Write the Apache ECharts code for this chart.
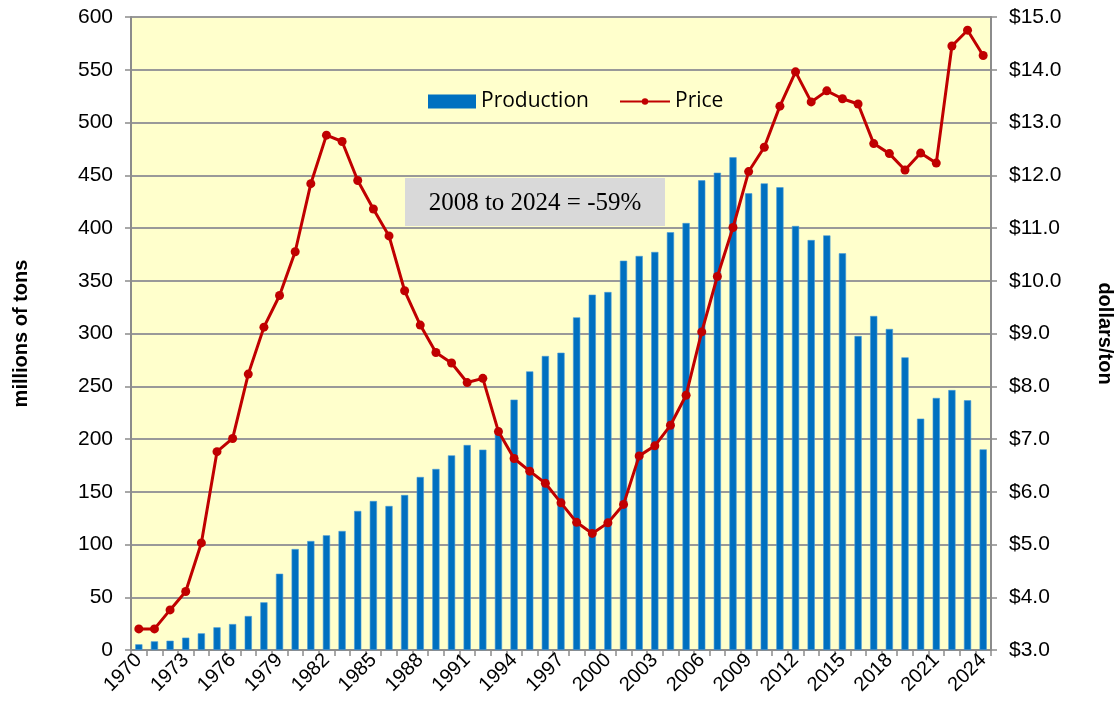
<!DOCTYPE html>
<html><head><meta charset="utf-8">
<script src="https://cdn.jsdelivr.net/npm/echarts@6/dist/echarts.min.js"></script>
<style>html,body{margin:0;padding:0;background:#fff}#c{width:1119px;height:711px}</style>
</head><body><div id="c"></div>
<script>
const years = [];
for (let y = 1970; y <= 2024; y++) years.push(String(y));
const production = [5.4,8.2,8.8,11.7,15.8,21.5,24.6,32.2,45.2,72.3,95.7,103.3,108.7,112.8,131.8,141.2,136.5,146.9,164,171.6,184.5,194.3,189.9,210,237.3,264.1,278.7,281.8,315.3,336.8,339.3,369,373.5,377.3,396,404.7,445.2,452.4,467,432.9,442.3,438.6,401.9,388.6,393,376,297.6,316.6,304.3,277.4,219.3,238.9,246.4,236.7,190.2];
const price = [3.40,3.40,3.76,4.11,5.03,6.76,7.01,8.23,9.12,9.72,10.55,11.84,12.76,12.64,11.90,11.36,10.85,9.81,9.16,8.64,8.44,8.07,8.15,7.14,6.63,6.39,6.16,5.79,5.42,5.21,5.41,5.76,6.68,6.87,7.26,7.83,9.03,10.08,11.01,12.07,12.53,13.31,13.96,13.39,13.60,13.45,13.35,12.60,12.41,12.10,12.42,12.23,14.45,14.75,14.27];
const annotation = "2008 to 2024 = -59%";

const chart = echarts.init(document.getElementById('c'));
const lab = {fontFamily:'Liberation Sans', fontSize:21, color:'#000'};
const legText = {fontFamily:'Open Sans', fontSize:21, color:'#000'};
chart.setOption({
  animation:false,
  grid:{left:131, right:128, top:17, bottom:61, containLabel:false, outerBoundsMode:'none',
        show:true, backgroundColor:'#ffffcc', borderWidth:0},
  legend:[
    {left:428, top:91, padding:0, itemWidth:48, itemHeight:14, textStyle:legText,
     data:[{name:'Production', icon:'rect', itemStyle:{borderWidth:0}}]},
    {left:619, top:91, padding:0, itemWidth:50, itemHeight:8, textStyle:legText,
     data:[{name:'Price'}]}
  ],
  xAxis:{
    type:'category', data:years, boundaryGap:true,
    axisLine:{lineStyle:{color:'#8c8c8c', width:2}},
    axisTick:{show:true, interval:0, length:6, lineStyle:{color:'#8c8c8c', width:1.5}},
    axisLabel:Object.assign({interval:2, rotate:45, margin:7}, lab, {fontSize:20})
  },
  yAxis:[
    {type:'value', min:0, max:600, interval:50, position:'left',
     name:'millions of tons', nameLocation:'middle', nameGap:100, nameRotate:90,
     nameTextStyle:{fontFamily:'Liberation Sans', fontSize:20, fontWeight:'bold', color:'#000'},
     axisLine:{show:true, lineStyle:{color:'#8c8c8c', width:2}},
     axisTick:{show:true, length:6, lineStyle:{color:'#8c8c8c', width:1.5}},
     axisLabel:Object.assign({margin:18}, lab),
     splitLine:{show:true, lineStyle:{color:'#999', width:2}}},
    {type:'value', min:3, max:15, interval:1, position:'right',
     name:'dollars/ton', nameLocation:'middle', nameGap:104, nameRotate:-90,
     nameTextStyle:{fontFamily:'Liberation Sans', fontSize:20, fontWeight:'bold', color:'#000'},
     axisLine:{show:true, lineStyle:{color:'#8c8c8c', width:2}},
     axisTick:{show:true, length:6, lineStyle:{color:'#8c8c8c', width:1.5}},
     axisLabel:Object.assign({margin:18, formatter:v=>'$'+v.toFixed(1)}, lab),
     splitLine:{show:false}}
  ],
  series:[
    {name:'Production', type:'bar', yAxisIndex:0, data:production, barWidth:'46%',
     itemStyle:{color:'#0070c0', borderColor:'#4a9ad6', borderWidth:0.6}},
    {name:'Price', type:'line', yAxisIndex:1, data:price, symbol:'circle', symbolSize:9,
     lineStyle:{color:'#c00000', width:3}, itemStyle:{color:'#c00000'}, z:5}
  ],
  graphic:[
    {type:'group', left:405, top:178, z:10, children:[
      {type:'rect', shape:{x:0,y:0,width:260,height:48}, style:{fill:'#d9d9d9'}},
      {type:'text', x:130, y:25, style:{text:annotation, font:'25px "Liberation Serif"', fill:'#000', textAlign:'center', textVerticalAlign:'middle'}}
    ]}
  ]
});
</script></body></html>
